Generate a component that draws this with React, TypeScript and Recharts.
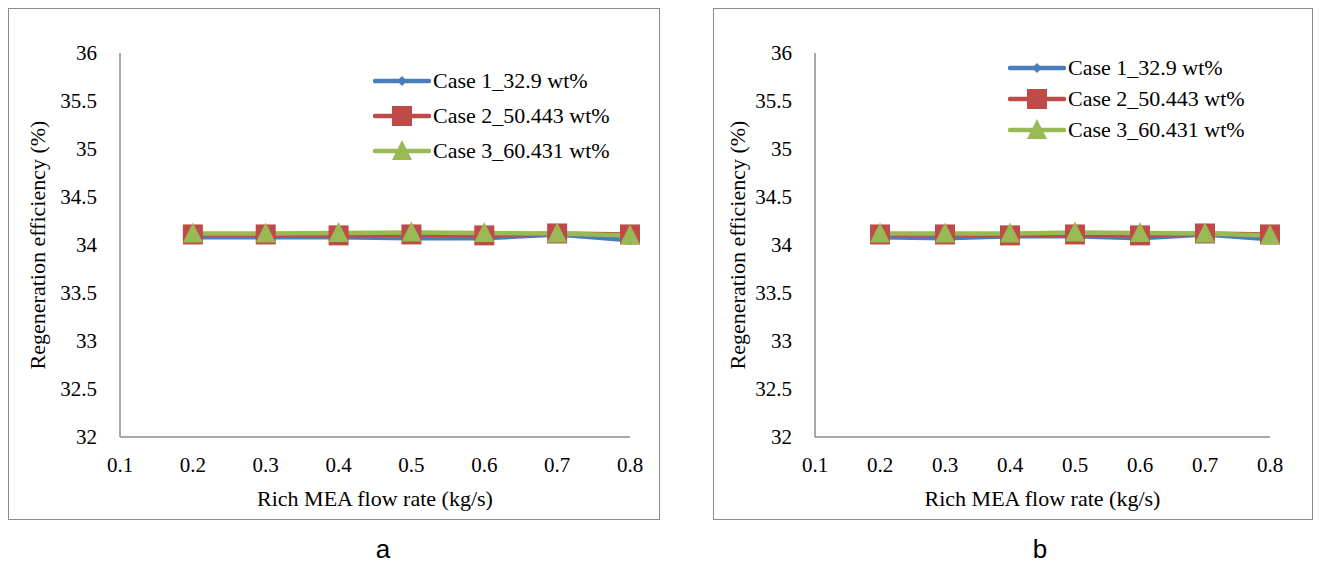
import * as React from "react";
import { LineChart, Line, XAxis, YAxis } from "recharts";

// flow rates (kg/s)
const flowRates = [0.2, 0.3, 0.4, 0.5, 0.6, 0.7, 0.8];
const xTicks = [0.1, 0.2, 0.3, 0.4, 0.5, 0.6, 0.7, 0.8];
const yTicks = [32, 32.5, 33, 33.5, 34, 34.5, 35, 35.5, 36];

const seriesNames = ["Case 1_32.9 wt%", "Case 2_50.443 wt%", "Case 3_60.431 wt%"];

// panel a
const case1A = [34.08, 34.08, 34.08, 34.07, 34.07, 34.11, 34.05];
const case2A = [34.11, 34.11, 34.1, 34.11, 34.1, 34.12, 34.11];
const case3A = [34.12, 34.12, 34.125, 34.13, 34.125, 34.12, 34.1];

// panel b
const case1B = [34.08, 34.07, 34.09, 34.09, 34.07, 34.11, 34.06];
const case2B = [34.11, 34.11, 34.1, 34.11, 34.1, 34.12, 34.11];
const case3B = [34.12, 34.12, 34.12, 34.13, 34.125, 34.12, 34.1];

const COLORS = ["#4a7ebb", "#be4b48", "#98b954"];
const FONT =
  "'Liberation Serif', LiberationSerif, 'Times New Roman', Times, Tinos, 'DejaVu Serif', 'Noto Serif', serif";
const AXIS_GRAY = "#8c8c8c";

const buildRows = (c1: number[], c2: number[], c3: number[]) =>
  flowRates.map((x, i) => ({ x, c1: c1[i], c2: c2[i], c3: c3[i] }));

const Diamond = (props: any) => {
  const { cx, cy } = props;
  if (cx == null || cy == null) return null;
  const r = 5;
  return (
    <path
      d={`M${cx},${cy - r}L${cx + r},${cy}L${cx},${cy + r}L${cx - r},${cy}Z`}
      fill={COLORS[0]}
    />
  );
};

const Square = (props: any) => {
  const { cx, cy } = props;
  if (cx == null || cy == null) return null;
  const s = 10;
  return <rect x={cx - s} y={cy - s} width={s * 2} height={s * 2} fill={COLORS[1]} />;
};

const Triangle = (props: any) => {
  const { cx, cy } = props;
  if (cx == null || cy == null) return null;
  const w = 10;
  return (
    <path
      d={`M${cx},${cy - 11}L${cx + w},${cy + 9}L${cx - w},${cy + 9}Z`}
      fill={COLORS[2]}
    />
  );
};

const markers = [Diamond, Square, Triangle];

const LegendBox = ({ x, y, rowGap }: { x: number; y: number; rowGap: number }) => (
  <div style={{ position: "absolute", left: x, top: y, fontFamily: FONT, fontSize: 22, color: "#000" }}>
    {seriesNames.map((name, i) => {
      const M = markers[i];
      return (
        <div
          key={name}
          style={{ display: "flex", alignItems: "center", height: rowGap, whiteSpace: "nowrap" }}
        >
          <svg width={58} height={24} style={{ marginRight: 2 }}>
            <line x1={2} y1={12} x2={56} y2={12} stroke={COLORS[i]} strokeWidth={4.5} strokeLinecap="round" />
            <M cx={29} cy={12} />
          </svg>
          <span>{name}</span>
        </div>
      );
    })}
  </div>
);

interface PanelProps {
  left: number;
  width: number;
  plotLeft: number;
  plotRight: number;
  rows: any[];
  legendX: number;
  legendY: number;
  rowGap: number;
  yTitleX: number;
  letter: string;
  letterX: number;
}

const Panel: React.FC<PanelProps> = ({
  left,
  width,
  plotLeft,
  plotRight,
  rows,
  legendX,
  legendY,
  rowGap,
  yTitleX,
  letter,
  letterX,
}) => {
  const top = 8;
  const height = 512;
  const yAxisW = 60;
  const xAxisH = 50;
  const plotTop = 53;
  const plotBottom = 437;
  const margin = {
    left: plotLeft - left - yAxisW,
    right: left + width - plotRight,
    top: plotTop - top,
    bottom: top + height - plotBottom - xAxisH,
  };
  const tickStyle = { fontFamily: FONT, fontSize: 21, fill: "#000" };
  return (
    <>
      <div
        style={{
          position: "absolute",
          left,
          top,
          width,
          height,
          boxSizing: "border-box",
          border: "1.5px solid #8c8c8c",
        }}
      />
      <div style={{ position: "absolute", left, top }}>
        <LineChart width={width} height={height} data={rows} margin={margin}>
          <XAxis
            dataKey="x"
            type="number"
            domain={[0.1, 0.8]}
            ticks={xTicks}
            tickFormatter={(v: number) => v.toFixed(1)}
            height={xAxisH}
            tickLine={false}
            tickSize={0}
            tickMargin={20}
            axisLine={{ stroke: AXIS_GRAY, strokeWidth: 1.5 }}
            tick={tickStyle}
            interval={0}
            allowDecimals
          />
          <YAxis
            type="number"
            domain={[32, 36]}
            ticks={yTicks}
            width={yAxisW}
            tickLine={false}
            tickSize={0}
            tickMargin={23}
            axisLine={{ stroke: AXIS_GRAY, strokeWidth: 1.5 }}
            tick={tickStyle}
            interval={0}
            allowDecimals
          />
          {(["c1", "c2", "c3"] as const).map((k, i) => (
            <Line
              key={k}
              dataKey={k}
              name={seriesNames[i]}
              stroke={COLORS[i]}
              strokeWidth={4.5}
              dot={markers[i]}
              activeDot={false}
              isAnimationActive={false}
            />
          ))}
        </LineChart>
      </div>
      <LegendBox x={legendX} y={legendY} rowGap={rowGap} />
      <div
        style={{
          position: "absolute",
          left: yTitleX - 200,
          top: 245 - 13,
          width: 400,
          height: 26,
          lineHeight: "26px",
          textAlign: "center",
          transform: "rotate(-90deg)",
          fontFamily: FONT,
          fontSize: 22,
          whiteSpace: "nowrap",
        }}
      >
        Regeneration efficiency (%)
      </div>
      <div
        style={{
          position: "absolute",
          left: (plotLeft + plotRight) / 2 - 200,
          top: 486,
          width: 400,
          textAlign: "center",
          fontFamily: FONT,
          fontSize: 22,
          lineHeight: "26px",
          whiteSpace: "nowrap",
        }}
      >
        Rich MEA flow rate (kg/s)
      </div>
      <div
        style={{
          position: "absolute",
          left: letterX - 50,
          top: 534,
          width: 100,
          textAlign: "center",
          fontFamily: "'Liberation Sans', Arial, sans-serif",
          fontSize: 26,
          lineHeight: "30px",
        }}
      >
        {letter}
      </div>
    </>
  );
};

export default function App() {
  const rowsA = buildRows(case1A, case2A, case3A);
  const rowsB = buildRows(case1B, case2B, case3B);
  return (
    <div
      style={{
        position: "absolute",
        left: 0,
        top: 0,
        width: 1323,
        height: 564,
        background: "#fff",
        overflow: "hidden",
      }}
    >
      <Panel
        left={8}
        width={652}
        plotLeft={120}
        plotRight={630}
        rows={rowsA}
        legendX={373}
        legendY={63}
        rowGap={35}
        yTitleX={38}
        letter="a"
        letterX={383}
      />
      <Panel
        left={713}
        width={600}
        plotLeft={815}
        plotRight={1270}
        rows={rowsB}
        legendX={1008}
        legendY={52}
        rowGap={31}
        yTitleX={738}
        letter="b"
        letterX={1040}
      />
    </div>
  );
}
